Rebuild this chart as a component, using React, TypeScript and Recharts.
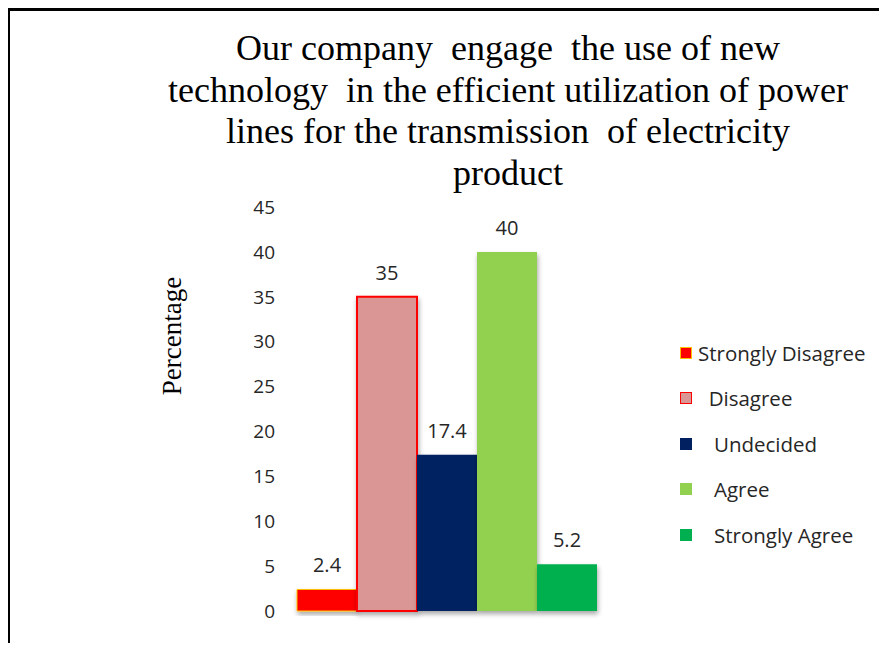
import { BarChart, Bar, XAxis, YAxis, Legend, LabelList } from 'recharts';

const titleLines = [
  'Our company  engage  the use of new',
  'technology  in the efficient utilization of power',
  'lines for the transmission  of electricity',
  'product',
];

const responses = ['Strongly Disagree', '  Disagree', '   Undecided', '   Agree', '   Strongly Agree'];
const percentages = [2.4, 35, 17.4, 40, 5.2];
const fills = ['#FF0000', '#D99694', '#002060', '#92D050', '#00B050'];
const strokes = ['#FFC000', '#FF0000', 'none', 'none', 'none'];
const yTicks = [0, 5, 10, 15, 20, 25, 30, 35, 40, 45];

const series = responses.map((name, i) => ({
  key: `r${i}`,
  name,
  fill: fills[i],
  stroke: strokes[i],
}));

const row: Record<string, string | number> = { group: 'Responses' };
series.forEach((s, i) => {
  row[s.key] = percentages[i];
});
const data = [row];

const sans = '"Open Sans", sans-serif';
const serif = '"Liberation Serif", "Times New Roman", serif';

function LegendBox({ payload }: any) {
  const shown = new Set((payload || []).map((p: any) => p.dataKey));
  return (
    <div style={{ fontFamily: sans, fontSize: 20.5, color: '#262626' }}>
      {series
        .filter(s => shown.has(s.key))
        .map(s => (
          <div key={s.key} style={{ display: 'flex', alignItems: 'center', height: 45.5 }}>
            <span
              style={{
                display: 'inline-block',
                width: 12,
                height: 12,
                boxSizing: 'border-box',
                background: s.fill,
                border: s.stroke === 'none' ? 'none' : `1.5px solid ${s.stroke}`,
              }}
            />
            <span style={{ marginLeft: 6, whiteSpace: 'pre' }}>{s.name}</span>
          </div>
        ))}
    </div>
  );
}

function YLabel({ viewBox }: any) {
  const cx = viewBox.x + viewBox.width / 2;
  const cy = 336;
  return (
    <text
      x={cx}
      y={cy}
      transform={`rotate(-90 ${cx} ${cy})`}
      textAnchor="middle"
      dominantBaseline="central"
      fontFamily={serif}
      fontSize={27}
      fill="#000"
    >
      Percentage
    </text>
  );
}

export default function App() {
  return (
    <div style={{ margin: -8, position: 'relative', width: 887, height: 651, overflow: 'hidden', background: '#fff' }}>
      <svg width={0} height={0} style={{ position: 'absolute' }}>
        <defs>
          <filter id="barShadow" x="-20%" y="-10%" width="140%" height="130%">
            <feDropShadow dx={1} dy={3} stdDeviation={2.5} floodColor="#000" floodOpacity={0.35} />
          </filter>
        </defs>
      </svg>
      {/* frame: only the top and left edges fall inside the picture */}
      <div style={{ position: 'absolute', left: 7, top: 8, width: 900, height: 2.5, background: '#000' }} />
      <div style={{ position: 'absolute', left: 7, top: 8, width: 2.5, height: 700, background: '#000' }} />
      <div
        style={{
          position: 'absolute',
          left: 108,
          top: 28,
          width: 800,
          textAlign: 'center',
          whiteSpace: 'pre',
          fontFamily: serif,
          fontSize: 36,
          lineHeight: '41.5px',
          color: '#000',
        }}
      >
        {titleLines.join('\n')}
      </div>
      <div style={{ position: 'absolute', left: 0, top: 0 }}>
        <BarChart
          width={887}
          height={651}
          data={data}
          margin={{ top: 207, right: 270, bottom: 40, left: 67 }}
          barGap={0}
        >
          <XAxis dataKey="group" type="category" hide />
          <YAxis
            domain={[0, 45]}
            ticks={yTicks}
            width={210}
            axisLine={false}
            tickLine={false}
            tickSize={0}
            tickMargin={2}
            tick={{ fontFamily: sans, fontSize: 19, fill: '#262626' }}
            label={<YLabel />}
          />
          <Legend
            layout="vertical"
            align="center"
            verticalAlign="middle"
            wrapperStyle={{ left: 680, top: 330, width: 'auto' }}
            content={<LegendBox />}
          />
          {series.map(s => (
            <Bar
              key={s.key}
              dataKey={s.key}
              name={s.name}
              fill={s.fill}
              stroke={s.stroke}
              strokeWidth={s.key === 'r1' ? 2 : 1}
              barSize={60}
              isAnimationActive={false}
              style={{ filter: 'url(#barShadow)' }}
            >
              <LabelList
                dataKey={s.key}
                position="top"
                offset={17}
                style={{ fontFamily: sans, fontSize: 20, fill: '#262626' }}
              />
            </Bar>
          ))}
        </BarChart>
      </div>
    </div>
  );
}
